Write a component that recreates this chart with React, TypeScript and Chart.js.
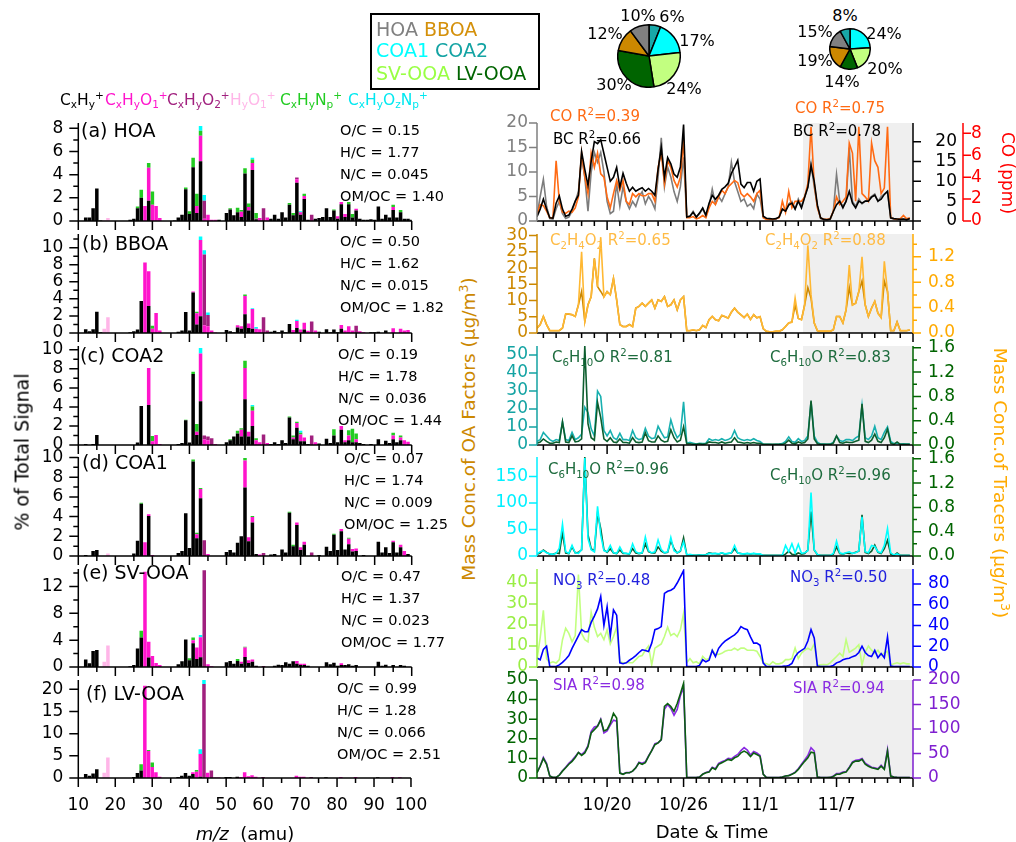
import React, { useEffect, useRef } from 'react';
import { Chart, registerables } from 'chart.js';

Chart.register(...registerables);

const FONT = "'DejaVu Sans', sans-serif";

// ---------------- Mass spectra (% of total signal) ----------------
const MZ = Array.from({ length: 91 }, (_, i) => 10 + i);
const FAMILIES = ['CxHy+', 'CxHyO1+', 'CxHyO2+', 'HyO1+', 'CxHyNp+', 'CxHyOzNp+'];
const FAMILY_COLORS = ['#000000', '#ff14cc', '#a0207e', '#ffb6e8', '#22cc22', '#00ffff'];

// rows: [m/z, CxHy, CxHyO1, CxHyO2, HyO1, CxHyNp, CxHyOzNp]
const HOA_MS = [
  [12, .3], [13, .3], [14, 1.1], [15, 2.8], [16, .05], [17, 0, 0, 0, .05], [18, 0, 0, 0, .25],
  [24, .1], [25, .2], [26, 1.1, 0, 0, 0, .15], [27, 2.0, 0, 0, 0, .7], [28, 0, 1.3], [29, 1.75, 2.85, 0, 0, .4],
  [30, 0, 1.4, 0, 0, 1.15], [31, 0, 1.3], [32, 0, .25], [36, .05], [37, .3], [38, .55], [39, 2.75, 0, 0, 0, .15],
  [40, .6, 0, 0, 0, .25], [41, 4.65, 0, 0, 0, .8], [42, .7, .6, 0, 0, 1.05], [43, 5.15, 2.2, 0, 0, .45, .4],
  [44, 0, .2, 1.55, 0, 0, .5], [45, 0, .55], [46, 0, .1], [47, 0, .1], [48, .1], [50, .7], [51, 1.0, 0, 0, 0, .1],
  [52, .5], [53, .75, 0, 0, 0, .4], [54, .35, .45, 0, 0, .15], [55, 4.1, 0, 0, 0, .45], [56, .9, .3, 0, 0, .3],
  [57, 4.4, .6, 0, 0, .3, .15], [58, .15, .05, 0, 0, .5], [59, 0, .25], [60, 0, 0, 1.1], [61, 0, .3], [62, .2],
  [63, .55], [64, .2], [65, .75], [66, .3], [67, 1.4, 0, 0, 0, .15], [68, .5, 0, 0, 0, .2], [69, 3.3, .3, .15],
  [70, .55, .2, 0, 0, 0, .1], [71, 1.9, .25, 0, 0, .2], [72, .1], [73, 0, 0, .55], [74, .2], [75, .25], [76, .35],
  [77, 1.1], [78, .35], [79, .9, 0, 0, 0, .1], [80, .2, .2], [81, 1.45, .2], [82, .35, .25], [83, 1.45, 0, 0, 0, .2],
  [84, .3, 0, 0, 0, .3], [85, .9, .15], [86, .2], [87, .1], [88, .1], [89, .15], [90, .1], [91, 1.25], [92, .2],
  [93, .55], [94, .3], [95, .95, .25, 0, 0, .2], [96, .3], [97, .75, 0, 0, 0, .2], [98, .2], [99, .2], [100, .1],
];
const BBOA_MS = [
  [12, .45], [13, .2], [14, .45], [15, 2.5], [16, .1], [17, 0, 0, 0, .5], [18, 0, 0, 0, 1.85], [24, .1], [25, .2],
  [26, .4], [27, 3.75], [28, 0, 8.25], [29, 3.15, 4.1], [30, 0, .5, 0, 0, .35], [31, 0, 2.35], [32, 0, .3],
  [37, .15], [38, .3], [39, 2.45], [40, .3], [41, 4.75, .1], [42, 1.0, 1.3, 0, 0, .2], [43, 1.95, 8.95, 0, 0, 0, .4],
  [44, 0, .9, 8.3, 0, 0, .5], [45, 0, .8, 1.3, 0, 0, .3], [46, 0, .3], [47, 0, .05], [50, .35], [51, .2], [52, .1],
  [53, .65, .25], [54, .5, .3], [55, 2.2, 2.15, 0, 0, .15], [56, .6, .5], [57, .5, 2.3, 0, 0, 0, .1],
  [58, 0, .5, 0, 0, 0, .2], [59, 0, .45], [60, 0, 0, 1.85], [61, 0, 0, .3], [62, .15], [63, .25], [64, .1], [65, .3],
  [66, .1], [67, 1.05], [68, 0, .35], [69, .6, .8, 0, 0, 0, .15], [70, 0, .4], [71, .4, .8], [72, 0, .25],
  [73, 0, 0, 1.35], [74, 0, .3], [75, .15], [77, .45], [78, .1], [79, .4], [80, .1], [81, .5, .45], [82, 0, .3],
  [83, 0, .8], [84, 0, .3], [85, 0, 0, .85], [86, 0, .2], [87, 0, .1], [89, .1], [90, .1], [91, .15], [93, .3],
  [95, 0, .55], [97, 0, .5], [98, 0, .3], [99, 0, .35],
];
const COA2_MS = [
  [12, .1], [14, .1], [15, 1.05], [26, .25], [27, 4.1], [29, 4.2, 3.9], [30, 0, .4, 0, 0, .55], [31, 0, 1.05],
  [32, 0, .1], [37, .1], [38, .2], [39, 2.6, 0, 0, 0, .05], [40, .25], [41, 7.45, 0, 0, 0, .25],
  [42, 1.05, .35, 0, 0, .8], [43, 4.6, 5.0, 0, 0, 0, .6], [44, 0, .6, .4], [45, 0, .5, .4], [46, 0, 0, .7],
  [47, 0, .1], [50, .3], [51, .5, 0, 0, 0, .1], [52, .9], [53, 1.2, 0, 0, 0, .3], [54, .9, .7, 0, 0, .15],
  [55, 4.8, 3.3, 0, 0, .75], [56, .9, .5], [57, 2.0, 1.6, 0, 0, .45, .15], [58, 0, .5, 0, 0, .2], [59, 0, .3],
  [60, 0, 0, 1.1], [61, 0, .2], [62, .1], [63, .3], [64, .1], [65, .5], [66, .2], [67, 2.9, 0, 0, 0, .1],
  [68, .6, .2, 0, 0, .2], [69, 1.8, .5, 0, 0, .15], [70, .4, .7, 0, 0, .2, .2], [71, .4, .4], [72, .1],
  [73, 0, 0, 1.0], [74, 0, .3], [75, .15], [77, .65], [78, .2], [79, 1.0, 0, 0, 0, .65], [80, .3], [81, 1.6, .4],
  [82, .3, .2], [83, .5, .5, 0, 0, .55], [84, .3, 0, 0, 0, 1.4], [85, .3, .3, 0, 0, .6], [86, .2], [87, .1],
  [89, .1], [91, .6], [93, .45], [94, .2], [95, .6, .4, 0, 0, .3], [96, .3], [97, .5, .3, 0, 0, .2], [98, 0, .5],
  [99, 0, .35],
];
const COA1_MS = [
  [12, .1], [14, .5], [15, .6], [18, 0, 0, 0, .25], [25, .25], [26, 1.55], [27, 5.3, 0, 0, 0, .1], [28, 0, 1.4],
  [29, 4.05, .2], [30, 0, .1], [37, .3], [38, .5], [39, 4.35], [40, .8], [41, 9.6, 0, 0, 0, .2],
  [42, 1.8, .4, 0, 0, .15], [43, 5.85, .95, 0, 0, .1], [44, 0, 0, 1.6], [45, 0, .2], [50, .4], [51, .6], [52, .35],
  [53, 1.35], [54, 2.0], [55, 6.95, 2.75, 0, 0, .25], [56, 1.5, .4], [57, 3.4, .55, 0, 0, .1], [58, .2],
  [59, 0, .15], [60, 0, 0, .3], [62, .15], [63, .2], [65, .65], [66, .35], [67, 4.4, 0, 0, 0, .1],
  [68, 1.0, 0, 0, 0, .15], [69, 3.15, .25], [70, .6, .3], [71, 1.15, .3], [73, 0, 0, .35], [75, .1], [77, .95],
  [78, .5], [79, 2.15, 0, 0, 0, .1], [80, .6], [81, 2.5, .25], [82, .65], [83, 1.2, .55, 0, 0, .1], [84, .45, .25],
  [85, .5, .25], [87, .1], [91, 1.45], [92, .35], [93, .9], [94, .3], [95, 1.4, .15], [96, .35], [97, .9, .25],
  [98, 0, .5], [99, .2],
];
const SVOOA_MS = [
  [12, 1.1], [13, .55], [14, 2.4], [15, 2.55], [17, 0, 0, 0, .8], [18, 0, 0, 0, 3.2], [24, .1], [25, .3],
  [26, 2.75], [27, 4.4, 0, 0, 0, 1.0], [28, 0, 14.2], [29, 1.4, 2.35], [30, 0, 1.65], [31, 0, .6], [32, 0, .3],
  [37, .4], [38, .85], [39, 4.1], [40, 1.0, 0, 0, 0, .3], [41, 3.55, .45, 0, 0, .4], [42, 1.2, 1.7],
  [43, 1.45, 3.0, 0, 0, 0, .3], [44, 0, 0, 14.4], [45, 0, .4], [46, 0, .1], [50, .7], [51, .9], [52, .5],
  [53, .9, 0, 0, 0, .3], [54, .5, .3], [55, 1.5, 1.4, 0, 0, .1], [56, .6, .4], [57, .8, .3], [58, .2],
  [60, 0, 0, .15], [63, .2], [64, .35], [65, .3], [66, .7], [67, .5], [68, .85], [69, .5, .4], [70, .3, .2],
  [71, .3, .2], [72, .2], [77, .7], [78, .4], [79, .65], [80, .2], [81, .3, .25], [82, .3], [83, .4], [84, .2],
  [85, .3], [91, .8], [92, .2], [93, .35], [95, .3], [97, .3], [98, .2],
];
const LVOOA_MS = [
  [12, .9], [13, .5], [14, 1.0], [15, 1.95], [17, 0, 0, 0, 1.2], [18, 0, 0, 0, 4.6], [25, .2], [26, 1.15],
  [27, 1.7, 0, 0, 0, 1.4], [28, 0, 20.8], [29, 0, 6.1, 0, 0, .2], [30, 0, 2.5, 0, 0, 1.0], [31, 0, 1.3],
  [32, 0, .3], [37, .2], [38, .5], [39, 1.1], [40, .5], [41, .9, .4], [42, 0, 1.4, 0, 0, .4],
  [43, .3, 5.1, 0, 0, 0, 1.1], [44, 0, 0, 21.2, 0, 0, 1.0], [45, 0, 1.2], [46, 0, 0, 1.7], [47, 0, .1],
  [48, 0, .1], [50, .2], [51, .2], [53, .3], [54, 0, .2], [55, 0, 1.3], [56, 0, .4], [57, 0, .6], [58, 0, .3],
  [60, 0, 0, .2], [69, 0, .5], [70, 0, .3], [71, 0, .3], [73, 0, 0, .2], [77, .15], [81, 0, .2], [85, 0, .2],
  [91, .15], [95, 0, .2], [97, 0, .15],
];

// ---------------- Time series (days after 10/20 00:00, every 6 h) ----------------
const DAY_MIN = -5.5;
const DAY_MAX = 24;
const TIME_DAYS = Array.from({ length: 118 }, (_, i) => DAY_MIN + i * 0.25);
const DATE_TICK_DAYS = [0, 6, 12, 18];
const DATE_TICK_LABELS = ['10/20', '10/26', '11/1', '11/7'];
const SHADE_DAYS = [15.37, 24];

const HOA_TS = [1.0, 5,
  8.5, 3, 0.5, 0.4, 2.5, 4, 1.5, 0.5, 0.8, 2, 4, 6, 13, 9, 2, 10, 14, 12, 14, 10,
  4, 1.5, 2, 7.5, 3, 7, 4, 2.5, 4, 3, 5, 6, 3.5, 5, 4, 2.5, 9, 17, 7, 11, 9, 6, 4, 7,
  13, 0.8, 1, 2, 0.8, 1.5, 2.5, 1, 3, 6.5, 3.5, 5, 4, 5.5, 7, 12, 8, 6, 4, 4.5, 3, 3.5, 2.5, 5.5,
  4.5, 0.8, 0.4, 0.4, 0.3, 0.4, 0.8, 2.5, 2, 3.5, 4, 2.5, 4.5, 3, 5, 7, 11.7, 7, 3, 0.5,
  0.3, 0.2, 0.3, 2, 9.5, 4, 3, 4, 15, 4, 3, 4.5, 3.5, 4, 4.5, 5, 5.5, 4, 5, 5.5, 6, 0.6, 0.4, 0.3,
  0.3, 0.4, 0.3, 0.4];
const BC_TS = [1.1, 3.0,
  5.5, 3, 0.8, 0.7, 4.5, 6.3, 3, 1.2, 1.5, 3, 5, 6.5, 17.5, 13, 9, 15, 20, 19.5, 20.5, 17,
  13.5, 10, 11, 13.5, 8.5, 12, 9.5, 7.5, 8.5, 7.5, 8, 8.4, 7.5, 8.2, 7.5, 6.5, 13, 18.5, 11, 16, 14.4, 11.8, 11, 13.6,
  24.3, 1.0, 1.2, 2.2, 1.0, 2.0, 3.3, 1.5, 4.5, 6.5, 5.5, 6.5, 8, 8.6, 9.5, 12, 13.6, 15.3, 9.3, 8.4, 9.7, 9.7, 7.5, 10,
  10.6, 1.2, 0.7, 0.6, 0.5, 0.6, 1.0, 3.0, 2.5, 4, 4.5, 3, 5, 3.3, 6, 8.5, 14, 10, 4, 0.8,
  0.4, 0.3, 0.5, 2.4, 4.1, 5, 3.3, 5, 7.5, 4.5, 3.3, 5, 4.5, 5, 5, 6, 6.5, 5, 5.5, 6.7, 7.5, 0.8, 0.6, 0.5,
  0.4, 0.5, 0.3, 0.6];
const CO_TS = [0.6, 1.5,
  1.4, 0.9, 0.3, 0.3, 5.5, 1.8, 0.8, 0.7, 0.9, 0.8, 1.2, 2.2, 6.2, 4, 2.5, 6.2, 4.9, 6.2, 4.3, 4,
  2.2, 1.2, 2.5, 3.7, 2.8, 3.7, 1.8, 1.5, 2.5, 2.2, 2.5, 2.3, 2.3, 2.5, 2.5, 1.8, 4.9, 6.2, 3.4, 5.5, 4.9, 3.7, 3.1, 4,
  7.4, 0.3, 0.3, 0.4, 0.2, 0.3, 0.5, 0.3, 1.2, 1.8, 1.5, 2.2, 2.8, 2.5, 3.1, 3.4, 3.7, 3.5, 2.5, 2.2, 2.5, 2.2, 1.8, 2.5,
  2.8, 0.3, 0.15, 0.15, 0.15, 0.2, 0.3, 1.8, 0.8, 2.7, 1.2, 1.8, 1.8, 1.8, 2.2, 3.4, 8.6, 3.4, 1.2, 0.3,
  0.15, 0.15, 0.2, 0.9, 2.2, 1.5, 1.8, 2.2, 7.1, 6.2, 1.8, 8.6, 2.5, 2.2, 1.8, 7.1, 5.5, 4.9, 2.5, 3, 8.6, 0.3, 0.2, 0.15,
  0.2, 0.5, 0.2, 0.3];
const BBOA_TS = [1.5, 2.6,
  5.1, 2.6, 0.7, 0.7, 0.7, 0.7, 1.5, 5.8, 5.8, 5.6, 5.1, 8.7, 12.8, 3.6, 8.7, 11.2, 23, 14.3, 12.8, 11.2,
  12.8, 11.8, 16.8, 10.2, 2.6, 2.0, 2.0, 2.6, 2.0, 7.7, 8.2, 9.2, 8.2, 9.2, 10.2, 7.7, 10.2, 9.7, 11.2, 8.2, 8.7, 10.2, 7.1, 10.2,
  11.2, 0.7, 0.7, 0.9, 0.7, 1.0, 2.3, 1.7, 4.1, 5.1, 4.1, 3.8, 5.4, 5.0, 4.6, 6.4, 7.7, 6.4, 5.6, 4.8, 5.8, 4.2, 5.6, 4.7,
  5.0, 1.3, 0.5, 0.4, 0.4, 0.5, 0.5, 1.0, 2.0, 3.1, 3.4, 8.5, 4.5, 4.1, 8.7, 14, 10.7, 3.1, 0.7, 0.5,
  0.5, 0.5, 0.5, 1.0, 5.1, 5.1, 3.1, 7.1, 14, 8.7, 9.2, 12.8, 16, 8.7, 5.1, 7.7, 9.7, 6.1, 4.8, 16, 12.8, 0.7, 0.7, 3.4,
  0.7, 0.7, 0.7, 0.9];
const C2H4O2_TS = [0.08, 0.13,
  0.26, 0.13, 0.04, 0.04, 0.04, 0.04, 0.08, 0.30, 0.30, 0.29, 0.26, 0.44, 1.28, 0.18, 0.44, 0.57, 1.17, 0.73, 1.51, 0.57,
  0.65, 0.60, 0.86, 0.52, 0.13, 0.10, 0.10, 0.13, 0.10, 0.39, 0.42, 0.47, 0.42, 0.47, 0.52, 0.39, 0.52, 0.50, 0.57, 0.42, 0.44, 0.52, 0.37, 0.52,
  0.57, 0.04, 0.04, 0.05, 0.04, 0.05, 0.12, 0.09, 0.21, 0.26, 0.21, 0.19, 0.28, 0.26, 0.23, 0.33, 0.39, 0.33, 0.29, 0.24, 0.30, 0.21, 0.29, 0.24,
  0.26, 0.07, 0.03, 0.02, 0.02, 0.03, 0.03, 0.05, 0.10, 0.16, 0.17, 0.55, 0.23, 0.21, 0.44, 1.38, 0.60, 0.16, 0.04, 0.03,
  0.03, 0.03, 0.03, 0.05, 0.26, 0.26, 0.16, 0.37, 1.07, 0.44, 0.47, 0.65, 1.20, 0.44, 0.26, 0.39, 0.50, 0.31, 0.24, 1.13, 0.65, 0.04, 0.04, 0.17,
  0.04, 0.04, 0.04, 0.05];
const COA2_TS = [2, 3,
  7, 5, 3, 2, 3, 2.5, 13, 3, 2.5, 7, 3, 4, 6, 21, 18, 9, 5, 30, 27, 8,
  5, 8, 4, 3, 6.5, 3, 3, 2.5, 8, 4, 3, 3.5, 9.3, 5, 3.5, 4, 10.4, 7, 4, 4.5, 14, 8, 4, 6,
  24, 1, 1.5, 1, 0.5, 1, 0.8, 1, 3.5, 2.5, 3, 2.5, 3.5, 2.5, 3, 4, 8, 4, 3, 2.5, 3, 2.5, 3.5, 2.5,
  2, 0.5, 0.4, 0.4, 0.3, 0.4, 0.5, 0.8, 2, 4.5, 2, 1.5, 3.5, 2, 2.5, 5, 24, 5, 1.5, 0.5,
  0.5, 0.4, 0.5, 1.5, 5, 2.5, 2, 3, 3, 2.5, 4, 5, 22, 4, 3, 5, 10.4, 4, 3, 7, 10, 2, 0.8, 1,
  0.5, 0.6, 0.5, 0.5];
const C6H10O_TS = [0.03, 0.05,
  0.1, 0.06, 0.03, 0.03, 0.05, 0.04, 0.38, 0.05, 0.04, 0.15, 0.05, 0.06, 0.1, 1.63, 0.35, 0.12, 0.08, 0.7, 0.45, 0.1,
  0.06, 0.12, 0.05, 0.04, 0.1, 0.04, 0.04, 0.03, 0.12, 0.05, 0.04, 0.05, 0.2, 0.07, 0.05, 0.05, 0.15, 0.08, 0.05, 0.06, 0.25, 0.12, 0.05, 0.08,
  0.3, 0.02, 0.02, 0.01, 0.01, 0.02, 0.01, 0.02, 0.05, 0.04, 0.04, 0.03, 0.05, 0.03, 0.04, 0.05, 0.12, 0.05, 0.04, 0.03, 0.04, 0.03, 0.04, 0.03,
  0.03, 0.01, 0.01, 0.01, 0.01, 0.01, 0.01, 0.01, 0.03, 0.08, 0.03, 0.02, 0.05, 0.03, 0.04, 0.1, 0.73, 0.1, 0.02, 0.01,
  0.01, 0.01, 0.01, 0.03, 0.15, 0.04, 0.03, 0.05, 0.04, 0.04, 0.06, 0.08, 0.68, 0.06, 0.04, 0.08, 0.18, 0.06, 0.04, 0.12, 0.26, 0.03, 0.01, 0.05,
  0.01, 0.01, 0.01, 0.01];
const COA1_TS = [4, 8,
  10, 6, 4, 3, 5, 15, 60, 8, 5, 20, 6, 5, 12, 185, 33, 12, 8, 94, 40, 10,
  8, 20, 6, 5, 17, 6, 5, 4, 23, 8, 5, 6, 36, 10, 6, 8, 30, 12, 6, 8, 35, 10, 6, 10,
  27, 2, 3, 2, 1.5, 2, 2, 2, 5, 4, 5, 4, 6, 4, 5, 6, 20, 6, 4, 4, 5, 4, 5, 4,
  4, 1, 1, 1, 1, 1, 1, 2, 20, 8, 23, 6, 22, 5, 6, 10, 120, 12, 3, 1,
  1, 1, 1, 5, 28, 6, 4, 6, 8, 5, 6, 10, 74, 8, 6, 20, 18, 8, 6, 20, 52, 6, 2, 4,
  1, 1, 1, 1];
const SVOOA_TS = [3.5, 14,
  27, 4, 1.9, 2.5, 1.9, 3.5, 13, 18.5, 16, 12, 15, 44, 16, 13, 12, 26, 19, 14.5, 16, 13,
  17.7, 11, 14.5, 19, 2.5, 2, 2, 2, 2, 3.5, 5, 5.5, 8, 10, 1, 9, 10, 11, 14.5, 19, 15, 16, 14.5, 17.7,
  25.6, 2, 4, 2, 2.5, 1.5, 5, 3.5, 4, 8, 6, 6, 6.5, 7.5, 8, 8, 9, 8, 9, 9, 8, 8, 8, 7.5,
  5, 2, 1.5, 1, 2.5, 1.5, 1.5, 2, 3.5, 3.5, 4, 9, 4, 6.6, 8, 9, 8, 11, 1, 1,
  1.2, 1, 2, 3.5, 5, 6.6, 5, 13, 7, 8, 9, 10.6, 1, 7, 10, 8, 6.6, 8, 5.5, 6.6, 7.5, 1, 1.5, 2,
  1.5, 2, 1.5, 1.5];
const NO3_TS = [8.6, 7,
  17, 20, 0.6, 0.5, 0.5, 2, 4.5, 7.5, 11, 18, 24, 30, 36, 34, 34, 43, 49, 56, 68, 40,
  58, 30, 55, 50, 4, 3.2, 4, 6.5, 8.5, 11, 14, 16.6, 16, 15, 23, 36, 37, 39, 71, 73, 74, 76, 81, 87,
  93, 0.6, 0.5, 0.5, 0.5, 1.5, 7, 5, 6.5, 16, 10, 18, 22, 25, 27, 29, 31, 34, 39, 37, 36, 29, 23, 23,
  21, 3.8, 0.5, 0.5, 0.5, 0.5, 0.5, 0.6, 0.8, 1.5, 3.5, 10, 14, 16, 18, 25, 36, 28, 0.8, 0.5,
  0.5, 0.5, 0.5, 1.5, 4, 5, 7, 8, 8.5, 10, 11, 14, 20, 14, 11, 10, 16, 9, 13, 9, 29, 0.8, 0.5, 0.5,
  0.5, 0.5, 0.5, 0.5];
const LVOOA_TS = [2.7, 6,
  10, 7, 1, 0.3, 0.3, 1.4, 3.5, 5.2, 7, 8.5, 10.5, 13, 11.5, 12.8, 16, 23, 24.7, 26.4, 29.7, 24,
  24.7, 28, 33, 30.6, 2.5, 1.9, 2.7, 2.7, 3.5, 5.2, 7.8, 7, 7.8, 11, 14, 17, 17.9, 19.6, 36.5, 38, 36.5, 34, 38, 43,
  48.3, 0.2, 0.2, 0.2, 0.2, 0.5, 1.9, 2.7, 3, 5.2, 4.4, 7, 7.8, 8.6, 9.5, 9, 10.3, 11, 12.8, 13.7, 12.8, 11, 12.8, 12,
  11, 1.9, 0.2, 0.2, 0.2, 0.2, 0.2, 0.5, 1, 1.2, 1.9, 2.7, 4.4, 6.5, 8.5, 10.3, 13.2, 12.8, 0.5, 0.2,
  0.2, 0.2, 0.3, 0.8, 1.9, 1.9, 2.7, 3, 5.2, 7.8, 8.6, 8.6, 9.5, 7, 6, 5.2, 4.8, 4.4, 6, 4.4, 13.7, 1, 0.5, 0.3,
  0.2, 0.2, 0.2, 0.2];
const SIA_TS = [11, 25,
  42, 30, 4, 1, 1, 6, 15, 22, 30, 36, 44, 52, 48, 54, 66, 95, 104, 106, 120, 92,
  96, 108, 118, 116, 10, 8, 11, 11, 14, 21, 32, 30, 33, 45, 56, 70, 72, 78, 140, 150, 142, 128, 140, 168,
  185, 1, 1, 1, 1, 2, 8, 11, 13, 22, 19, 30, 33, 36, 40, 39, 44, 48, 56, 62, 57, 47, 54, 51,
  46, 8, 1, 1, 1, 1, 1, 2, 4, 5, 8, 12, 19, 28, 37, 46, 62, 55, 2, 1,
  1, 1, 1, 4, 9, 9, 12, 13, 22, 33, 36, 37, 40, 30, 26, 22, 21, 19, 26, 19, 58, 4, 2, 1,
  1, 1, 1, 1];

// ---------------- Pie charts (fraction of OA) ----------------
const PIE_FACTORS_1 = ['COA2', 'COA1', 'SV-OOA', 'LV-OOA', 'BBOA', 'HOA'];
const PIE_VALUES_1 = [6, 17, 24, 30, 12, 10];
const PIE_FACTORS_2 = ['COA1', 'SV-OOA', 'LV-OOA', 'BBOA', 'HOA', 'COA2'];
const PIE_VALUES_2 = [24, 20, 14, 19, 15, 8];

const FACTOR_COLORS: Record<string, string> = {
  HOA: '#808080', BBOA: '#cc8800', COA1: '#00ffff', COA2: '#18a8a8', 'SV-OOA': '#c2ff80', 'LV-OOA': '#006400',
};

// ---------------- layout ----------------
const ROW_TOP = [123, 234, 346, 457, 569, 680];
const ROW_BOTTOM = [221, 333, 445, 556, 667, 778];
const PAD_TOP = 28;
const PAD_BOTTOM = 16;

function makeAxesPlugin(axes: any[], shade?: number[]) {
  return {
    id: 'igorAxes',
    beforeDatasetsDraw(chart: any) {
      if (!shade) return;
      const ca = chart.chartArea;
      const xs = chart.scales.x;
      const ctx = chart.ctx;
      const x0 = Math.max(ca.left, xs.getPixelForValue(shade[0]));
      const x1 = Math.min(ca.right, xs.getPixelForValue(shade[1]));
      ctx.save();
      ctx.fillStyle = '#efefef';
      ctx.fillRect(x0, ca.top, x1 - x0, ca.bottom - ca.top);
      ctx.restore();
    },
    afterDraw(chart: any) {
      const ctx = chart.ctx;
      const ca = chart.chartArea;
      axes.forEach((a) => {
        const s = chart.scales[a.id];
        if (!s) return;
        ctx.save();
        ctx.strokeStyle = a.color;
        ctx.lineWidth = 1.5;
        ctx.beginPath();
        const n0 = Math.ceil((s.min - a.base) / a.minor - 1e-6);
        const n1 = Math.floor((s.max - a.base) / a.minor + 1e-6);
        const horiz = s.isHorizontal();
        const dir = horiz ? 1 : s.position === 'left' ? -1 : 1;
        const pos = horiz ? ca.bottom : (dir < 0 ? ca.left : ca.right) + dir * (a.offset || 0);
        if (horiz) { ctx.moveTo(ca.left, pos); ctx.lineTo(ca.right, pos); }
        else { ctx.moveTo(pos, ca.top); ctx.lineTo(pos, ca.bottom); }
        for (let n = n0; n <= n1; n++) {
          const v = a.base + n * a.minor;
          const k = (v - a.base) / a.major;
          const len = Math.abs(k - Math.round(k)) < 1e-6 ? a.majorLen : a.minorLen;
          const p = s.getPixelForValue(v);
          if (horiz) { ctx.moveTo(p, pos); ctx.lineTo(p, pos + len); }
          else { ctx.moveTo(pos, p); ctx.lineTo(pos + dir * len, p); }
        }
        ctx.stroke();
        ctx.restore();
      });
    },
  };
}

function yScaleOpts(a: any) {
  return {
    type: 'linear', position: a.pos, min: 0, max: a.max, weight: a.weight || 0, stacked: !!a.stacked,
    grid: { display: false, drawTicks: false }, border: { display: false },
    ticks: {
      stepSize: a.step, includeBounds: false, maxTicksLimit: 100, autoSkip: false, color: a.color,
      font: { family: FONT, size: 17 }, padding: a.pad, crossAlign: a.align || 'near',
      callback: (v: any) => {
        const k = Number(v) / a.step;
        return Math.abs(k - Math.round(k)) < 1e-6 ? Number(v).toFixed(a.digits || 0) : '';
      },
    },
    afterFit: (s: any) => { s.width = a.width; },
  };
}

const LEFT_PANELS = [
  { rows: HOA_MS, max: 8.46, step: 2, minor: 1 },
  { rows: BBOA_MS, max: 11.6, step: 2, minor: 1 },
  { rows: COA2_MS, max: 10.4, step: 2, minor: 1 },
  { rows: COA1_MS, max: 10.05, step: 2, minor: 1 },
  { rows: SVOOA_MS, max: 14.6, step: 4, minor: 2 },
  { rows: LVOOA_MS, max: 22.1, step: 5, minor: 5 },
];

function msConfig(p: any, showX: boolean) {
  const datasets = FAMILIES.map((name, f) => ({
    label: name,
    data: MZ.map((m) => {
      const r = p.rows.find((rr: number[]) => rr[0] === m);
      return { x: m, y: r ? r[f + 1] || 0 : 0 };
    }),
    backgroundColor: FAMILY_COLORS[f],
    borderWidth: 0,
    barPercentage: 0.95,
    categoryPercentage: 1,
  }));
  const ySpec = { pos: 'left', max: p.max, step: p.step, color: '#000', width: 58.3, pad: 15, stacked: true };
  const axes = [
    { id: 'x', color: '#000', base: 10, minor: 5, major: 10, majorLen: 9, minorLen: 5 },
    { id: 'y', color: '#000', base: 0, minor: p.minor, major: p.step, majorLen: 9, minorLen: 5 },
  ];
  return {
    type: 'bar',
    data: { datasets },
    options: {
      responsive: false, animation: false, devicePixelRatio: 1, events: [],
      layout: { padding: { top: PAD_TOP, right: 33.3, left: 0, bottom: PAD_BOTTOM } },
      plugins: { legend: { display: false }, tooltip: { enabled: false } },
      scales: {
        x: {
          type: 'linear', min: 10, max: 100, offset: false, stacked: true,
          grid: { display: false, drawTicks: false }, border: { display: false },
          ticks: {
            display: showX, stepSize: 10, includeBounds: false, autoSkip: false, maxRotation: 0, minRotation: 0,
            padding: 17.8, color: '#000', font: { family: FONT, size: 17 },
          },
          afterFit: (s: any) => { s.height = showX ? 45 : 12; },
        },
        y: yScaleOpts(ySpec),
      },
    },
    plugins: [makeAxesPlugin(axes)],
  };
}

const RIGHT_PANELS = [
  {
    y: [
      { id: 'yL', pos: 'left', max: 20, step: 5, minor: 5, color: '#808080', width: 49, pad: 9 },
      { id: 'yR', pos: 'right', max: 24.7, step: 5, minor: 5, color: '#000000', width: 44, pad: 15, align: 'far' },
      { id: 'yR2', pos: 'right', max: 8.94, step: 2, minor: 2, color: '#ff0000', width: 59, pad: 14, offset: 50, weight: 1 },
    ],
    series: [
      { data: BC_TS, color: '#000000', axis: 'yR' },
      { data: CO_TS, color: '#ff6a13', axis: 'yR2' },
      { data: HOA_TS, color: '#7c7c7c', axis: 'yL' },
    ],
  },
  {
    y: [
      { id: 'yL', pos: 'left', max: 30.5, step: 5, minor: 5, color: '#cc8800', width: 49, pad: 9 },
      { id: 'yR', pos: 'right', max: 1.56, step: 0.4, minor: 0.2, color: '#ffaa00', width: 103, pad: 15, digits: 1 },
    ],
    series: [
      { data: C2H4O2_TS, color: '#ffb833', axis: 'yR' },
      { data: BBOA_TS, color: '#cc8800', axis: 'yL' },
    ],
  },
  {
    y: [
      { id: 'yL', pos: 'left', max: 55, step: 10, minor: 10, color: '#13a3a3', width: 49, pad: 9 },
      { id: 'yR', pos: 'right', max: 1.63, step: 0.4, minor: 0.2, color: '#006400', width: 103, pad: 15, digits: 1 },
    ],
    series: [
      { data: C6H10O_TS, color: '#0d5e2e', axis: 'yR' },
      { data: COA2_TS, color: '#18b0b0', axis: 'yL' },
    ],
  },
  {
    y: [
      { id: 'yL', pos: 'left', max: 187, step: 50, minor: 50, color: '#00f0ff', width: 49, pad: 9 },
      { id: 'yR', pos: 'right', max: 1.63, step: 0.4, minor: 0.2, color: '#006400', width: 103, pad: 15, digits: 1 },
    ],
    series: [
      { data: COA1_TS, color: '#00ffff', axis: 'yL' },
      { data: C6H10O_TS, color: '#0d5e2e', axis: 'yR' },
    ],
  },
  {
    y: [
      { id: 'yL', pos: 'left', max: 46.7, step: 10, minor: 10, color: '#99ee44', width: 49, pad: 9 },
      { id: 'yR', pos: 'right', max: 94.5, step: 20, minor: 20, color: '#0000ff', width: 103, pad: 15 },
    ],
    series: [
      { data: NO3_TS, color: '#0000ff', axis: 'yR' },
      { data: SVOOA_TS, color: '#c2ff80', axis: 'yL' },
    ],
  },
  {
    y: [
      { id: 'yL', pos: 'left', max: 50, step: 10, minor: 10, color: '#006400', width: 49, pad: 9 },
      { id: 'yR', pos: 'right', max: 200, step: 50, minor: 50, color: '#7f1fd0', width: 103, pad: 15 },
    ],
    series: [
      { data: LVOOA_TS, color: '#0b6010', axis: 'yL' },
      { data: SIA_TS, color: '#8a2be2', axis: 'yR' },
    ],
  },
];

function tsConfig(p: any, showX: boolean) {
  const hx = showX ? 45 : 12;
  const scales: any = {
    x: {
      type: 'linear', min: DAY_MIN, max: DAY_MAX,
      grid: { display: false, drawTicks: false }, border: { display: false },
      ticks: {
        display: showX, stepSize: 6, includeBounds: false, autoSkip: false, maxRotation: 0, minRotation: 0,
        padding: 17.8, color: '#000', font: { family: FONT, size: 17 },
        callback: (v: any) => {
          const k = DATE_TICK_DAYS.indexOf(Math.round(Number(v)));
          return k >= 0 && Math.abs(Number(v) - Math.round(Number(v))) < 1e-6 ? DATE_TICK_LABELS[k] : '';
        },
      },
      afterFit: (s: any) => { s.height = hx; },
    },
  };
  p.y.forEach((a: any) => { scales[a.id] = yScaleOpts(a); });
  const axes = [
    { id: 'x', color: '#000', base: 0, minor: 1, major: 6, majorLen: 9, minorLen: 5 },
    ...p.y.map((a: any) => ({ id: a.id, color: a.color, base: 0, minor: a.minor, major: a.step, majorLen: 8, minorLen: 4, offset: a.offset || 0 })),
  ];
  return {
    type: 'line',
    data: {
      datasets: p.series.map((s: any) => ({
        data: TIME_DAYS.map((t, i) => ({ x: t, y: s.data[i] })),
        borderColor: s.color, borderWidth: 1.6, pointRadius: 0, tension: 0, fill: false, yAxisID: s.axis,
      })),
    },
    options: {
      responsive: false, animation: false, devicePixelRatio: 1, events: [],
      layout: { padding: { top: PAD_TOP, left: 0, right: 0, bottom: PAD_BOTTOM } },
      plugins: { legend: { display: false }, tooltip: { enabled: false } },
      scales,
    },
    plugins: [makeAxesPlugin(axes, SHADE_DAYS)],
  };
}

function pieConfig(labels: string[], values: number[]) {
  return {
    type: 'pie',
    data: {
      labels,
      datasets: [{ data: values, backgroundColor: labels.map((l) => FACTOR_COLORS[l]), borderColor: '#000', borderWidth: 1.5 }],
    },
    options: {
      responsive: false, animation: false, devicePixelRatio: 1, events: [],
      layout: { padding: 0 },
      plugins: { legend: { display: false }, tooltip: { enabled: false } },
    },
  };
}

function ChartCanvas({ left, top, width, height, make }: any) {
  const ref = useRef<HTMLCanvasElement | null>(null);
  useEffect(() => {
    const chart = new Chart(ref.current as HTMLCanvasElement, make());
    return () => chart.destroy();
  }, []);
  return <canvas ref={ref} width={width} height={height} style={{ position: 'absolute', left, top, width, height }} />;
}

function Label({ x, y, size = 16, color = '#000', rotate = 0, center = false, italic = false, children }: any) {
  const style: any = {
    position: 'absolute', fontFamily: FONT, fontSize: size, lineHeight: `${size * 1.2}px`, color,
    whiteSpace: 'nowrap', fontStyle: italic ? 'italic' : 'normal',
  };
  if (rotate || center) {
    style.left = x; style.top = y; style.transform = `translate(-50%, -50%) rotate(${rotate}deg)`;
  } else {
    style.left = x; style.top = y - size * 0.6;
  }
  return <div style={style}>{children}</div>;
}
const Sub = ({ children }: any) => <span style={{ fontSize: '0.68em', position: 'relative', top: '0.35em' }}>{children}</span>;
const Sup = ({ children }: any) => <span style={{ fontSize: '0.68em', position: 'relative', top: '-0.55em' }}>{children}</span>;

const PANEL_NAMES = ['(a) HOA', '(b) BBOA', '(c) COA2', '(d) COA1', '(e) SV-OOA', '(f) LV-OOA'];
const PANEL_NAME_POS = [[81, 130], [82, 243], [80, 355], [82, 462], [82, 572], [86, 693]];
const ELEMENTAL = [
  ['0.15', '1.77', '0.045', '1.40'],
  ['0.50', '1.62', '0.015', '1.82'],
  ['0.19', '1.78', '0.036', '1.44'],
  ['0.07', '1.74', '0.009', '1.25'],
  ['0.47', '1.37', '0.023', '1.77'],
  ['0.99', '1.28', '0.066', '2.51'],
];
const ELEMENTAL_POS = [[340, 131], [340, 242], [338, 355], [344, 459], [341, 577], [337, 689]];

export default function App() {
  const c6 = <>C<Sub>6</Sub>H<Sub>10</Sub>O R<Sup>2</Sup></>;
  const c2 = <>C<Sub>2</Sub>H<Sub>4</Sub>O<Sub>2</Sub> R<Sup>2</Sup></>;
  return (
    <div style={{ position: 'absolute', left: 0, top: 0, width: 1016, height: 842, background: '#fff', overflow: 'hidden', fontFamily: FONT }}>
      {LEFT_PANELS.map((p, i) => (
        <ChartCanvas key={'ms' + i} left={20} top={ROW_TOP[i] - PAD_TOP} width={425}
          height={PAD_TOP + ROW_BOTTOM[i] - ROW_TOP[i] + (i === 5 ? 45 : 12) + PAD_BOTTOM} make={() => msConfig(p, i === 5)} />
      ))}
      {RIGHT_PANELS.map((p, i) => (
        <ChartCanvas key={'ts' + i} left={488} top={ROW_TOP[i] - PAD_TOP} width={528}
          height={PAD_TOP + ROW_BOTTOM[i] - ROW_TOP[i] + (i === 5 ? 45 : 12) + PAD_BOTTOM} make={() => tsConfig(p, i === 5)} />
      ))}
      <ChartCanvas left={617} top={24} width={64} height={64} make={() => pieConfig(PIE_FACTORS_1, PIE_VALUES_1)} />
      <ChartCanvas left={829} top={28} width={42} height={42} make={() => pieConfig(PIE_FACTORS_2, PIE_VALUES_2)} />

      {/* pie labels */}
      <Label x={638} y={16} center>10%</Label>
      <Label x={672} y={17} center>6%</Label>
      <Label x={697} y={41} center>17%</Label>
      <Label x={605} y={34} center>12%</Label>
      <Label x={614} y={85} center>30%</Label>
      <Label x={684} y={89} center>24%</Label>
      <Label x={845} y={16} center>8%</Label>
      <Label x={815} y={32} center>15%</Label>
      <Label x={884} y={34} center>24%</Label>
      <Label x={815} y={61} center>19%</Label>
      <Label x={885} y={69} center>20%</Label>
      <Label x={842} y={82} center>14%</Label>

      {/* factor legend box */}
      <div style={{ position: 'absolute', left: 370, top: 13, width: 166, height: 73, border: '2px solid #000', boxSizing: 'content-box' }} />
      <Label x={376} y={29} size={19}><span style={{ color: '#808080' }}>HOA</span> <span style={{ color: '#d4900a' }}>BBOA</span></Label>
      <Label x={376} y={50.5} size={19}><span style={{ color: '#00ffff' }}>COA1</span> <span style={{ color: '#13a3a3' }}>COA2</span></Label>
      <Label x={376} y={73} size={19}><span style={{ color: '#99ff44' }}>SV-OOA</span> <span style={{ color: '#006400' }}>LV-OOA</span></Label>

      {/* ion family legend */}
      <Label x={60} y={100} size={15.5}>C<Sub>x</Sub>H<Sub>y</Sub><Sup>+</Sup></Label>
      <Label x={105} y={100} size={15.5} color={FAMILY_COLORS[1]}>C<Sub>x</Sub>H<Sub>y</Sub>O<Sub>1</Sub><Sup>+</Sup></Label>
      <Label x={167} y={100} size={15.5} color={FAMILY_COLORS[2]}>C<Sub>x</Sub>H<Sub>y</Sub>O<Sub>2</Sub><Sup>+</Sup></Label>
      <Label x={230} y={100} size={15.5} color={FAMILY_COLORS[3]}>H<Sub>y</Sub>O<Sub>1</Sub><Sup>+</Sup></Label>
      <Label x={280} y={100} size={15.5} color={FAMILY_COLORS[4]}>C<Sub>x</Sub>H<Sub>y</Sub>N<Sub>p</Sub><Sup>+</Sup></Label>
      <Label x={348} y={100} size={15.5} color="#00e8f0">C<Sub>x</Sub>H<Sub>y</Sub>O<Sub>z</Sub>N<Sub>p</Sub><Sup>+</Sup></Label>

      {/* left panel names and elemental ratios */}
      {PANEL_NAMES.map((n, i) => (
        <Label key={'pn' + i} x={PANEL_NAME_POS[i][0]} y={PANEL_NAME_POS[i][1]} size={19}>{n}</Label>
      ))}
      {ELEMENTAL.map((e, i) => (
        <React.Fragment key={'el' + i}>
          <Label x={ELEMENTAL_POS[i][0]} y={ELEMENTAL_POS[i][1]} size={14.5}>O/C = {e[0]}</Label>
          <Label x={ELEMENTAL_POS[i][0]} y={ELEMENTAL_POS[i][1] + 22} size={14.5}>H/C = {e[1]}</Label>
          <Label x={ELEMENTAL_POS[i][0]} y={ELEMENTAL_POS[i][1] + 44} size={14.5}>N/C = {e[2]}</Label>
          <Label x={ELEMENTAL_POS[i][0]} y={ELEMENTAL_POS[i][1] + 66} size={14.5}>OM/OC = {e[3]}</Label>
        </React.Fragment>
      ))}

      {/* axis titles */}
      <Label x={22} y={452} size={19} rotate={-90}>% of Total Signal</Label>
      <Label x={245} y={834} size={18} center><i>m/z</i>&nbsp; (amu)</Label>
      <Label x={712} y={832} size={18} center>Date &amp; Time</Label>
      <Label x={470} y={429} size={18.5} rotate={-90} color="#cc8800">Mass Conc.of OA Factors (μg/m<Sup>3</Sup>)</Label>
      <Label x={999} y={483} size={18.5} rotate={90} color="#ffaa00">Mass Conc.of Tracers (μg/m<Sup>3</Sup>)</Label>
      <Label x={1008} y={173} size={17} rotate={90} color="#ff0000">CO (ppm)</Label>

      {/* R² annotations */}
      <Label x={550} y={116} size={15} color="#ff6a13">CO R<Sup>2</Sup>=0.39</Label>
      <Label x={553} y={139} size={15}>BC R<Sup>2</Sup>=0.66</Label>
      <Label x={795} y={108} size={15} color="#ff6a13">CO R<Sup>2</Sup>=0.75</Label>
      <Label x={793} y={131} size={15}>BC R<Sup>2</Sup>=0.78</Label>
      <Label x={550} y={240} size={15} color="#ffbb44">{c2}=0.65</Label>
      <Label x={765} y={240} size={15} color="#ffbb44">{c2}=0.88</Label>
      <Label x={552} y={357} size={15} color="#1d6b3d">{c6}=0.81</Label>
      <Label x={770} y={357} size={15} color="#1d6b3d">{c6}=0.83</Label>
      <Label x={548} y={469} size={15} color="#1d6b3d">{c6}=0.96</Label>
      <Label x={770} y={475} size={15} color="#1d6b3d">{c6}=0.96</Label>
      <Label x={553} y={580} size={15} color="#2222dd">NO<Sub>3</Sub> R<Sup>2</Sup>=0.48</Label>
      <Label x={790} y={577} size={15} color="#2222dd">NO<Sub>3</Sub> R<Sup>2</Sup>=0.50</Label>
      <Label x={553} y={685} size={15} color="#8a2be2">SIA R<Sup>2</Sup>=0.98</Label>
      <Label x={793} y={688} size={15} color="#8a2be2">SIA R<Sup>2</Sup>=0.94</Label>
    </div>
  );
}
